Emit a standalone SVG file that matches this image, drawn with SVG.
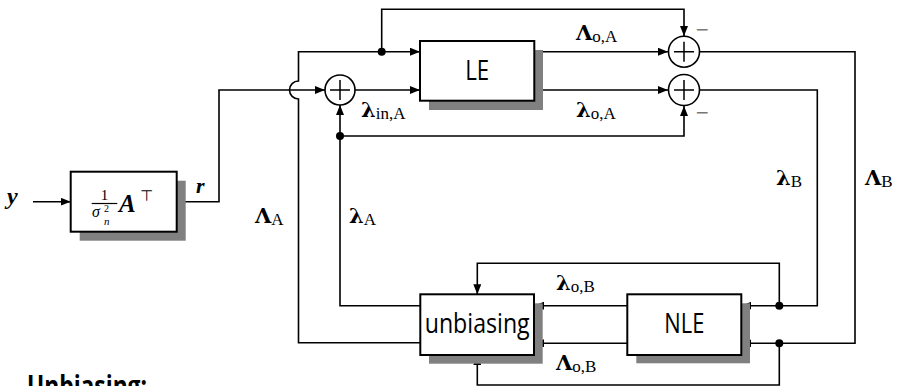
<svg xmlns="http://www.w3.org/2000/svg" width="898" height="386" viewBox="0 0 898 386">
<defs>
<marker id="ah" viewBox="0 0 10 8" refX="10" refY="4" markerWidth="10" markerHeight="8" markerUnits="userSpaceOnUse" orient="auto">
<path d="M0,0 L10,4 L0,8 Z" fill="#000"/>
</marker>
<style>
.box{fill:#fff;stroke:#000;stroke-width:2}
.sh{fill:#808080}
.ln{fill:none;stroke:#000;stroke-width:1.5}
.ar{fill:none;stroke:#000;stroke-width:1.6;marker-end:url(#ah)}
.dot{fill:#000}
.sum{fill:#fff;stroke:#000;stroke-width:1.6}
.lbl{font-family:"Open Sans","Noto Sans",sans-serif;font-size:28px;fill:#000}
.gk{font-family:"DejaVu Serif","Liberation Serif",serif;font-weight:bold;font-size:21px;fill:#000}
.sb{font-family:"Liberation Serif",serif;font-size:17px;fill:#000}
.mi{font-family:"Liberation Serif",serif;font-weight:bold;font-style:italic;fill:#000}
.mn{font-family:"DejaVu Sans",sans-serif;font-size:17px;fill:#777}
</style>
</defs>

<g id="connectors">
<line class="ar" x1="33" y1="201.7" x2="70.7" y2="201.7"/>
<polyline class="ar" points="176.7,201.7 219,201.7 219,90 325,90"/>
<line class="ar" x1="355" y1="90" x2="420" y2="90"/>
<path class="ar" d="M420.3,342.7 H298.5 V99 A9,9 0 0 1 298.5,81 V51.7 H420"/>
<polyline class="ar" points="381.7,51.7 381.7,9.3 684,9.3 684,36"/>
<polyline class="ar" points="420.3,305.7 340,305.7 340,105"/>
<polyline class="ar" points="340,136 684,136 684,106"/>
<line class="ar" x1="534.3" y1="51.7" x2="668" y2="51.7"/>
<line class="ar" x1="534.3" y1="90" x2="668" y2="90"/>
<polyline class="ar" points="700,51.7 855,51.7 855,343.3 741.3,343.3"/>
<polyline class="ar" points="779.3,343.3 779.3,385 477.3,385 477.3,355"/>
<polyline class="ar" points="700,90 817.3,90 817.3,305.7 741.3,305.7"/>
<polyline class="ar" points="779.3,305.7 779.3,263.3 477.3,263.3 477.3,294.3"/>
<line class="ar" x1="627.3" y1="305.7" x2="534" y2="305.7"/>
<line class="ar" x1="627.3" y1="343.3" x2="534" y2="343.3"/>
<circle class="dot" cx="381.7" cy="51.7" r="4"/>
<circle class="dot" cx="340" cy="136" r="4"/>
<circle class="dot" cx="779.3" cy="305.7" r="4"/>
<circle class="dot" cx="779.3" cy="343.3" r="4"/>
<text x="576" y="40"><tspan class="gk">Λ</tspan><tspan class="sb" dy="2">o,A</tspan></text>
<text x="576" y="116.7"><tspan class="gk">λ</tspan><tspan class="sb" dy="2">o,A</tspan></text>
<text x="361" y="117"><tspan class="gk">λ</tspan><tspan class="sb" dy="2">in,A</tspan></text>
<text x="255" y="223"><tspan class="gk">Λ</tspan><tspan class="sb" dy="2">A</tspan></text>
<text x="349" y="223"><tspan class="gk">λ</tspan><tspan class="sb" dy="2">A</tspan></text>
<text x="776" y="185"><tspan class="gk">λ</tspan><tspan class="sb" dy="2">B</tspan></text>
<text x="865" y="185"><tspan class="gk">Λ</tspan><tspan class="sb" dy="2">B</tspan></text>
<text x="556" y="290"><tspan class="gk">λ</tspan><tspan class="sb" dy="2">o,B</tspan></text>
<text x="556" y="370"><tspan class="gk">Λ</tspan><tspan class="sb" dy="2">o,B</tspan></text>
<text class="mi" x="196" y="193" font-size="22">r</text>
<text class="mi" x="7" y="204" font-size="24">y</text>
<text class="mn" x="695" y="35">−</text>
<text class="mn" x="695" y="118">−</text>
</g>

<g id="sum1">
<circle class="sum" cx="340" cy="90" r="15"/>
<path class="ln" d="M330,90 H350 M340,80 V100"/>
</g>
<g id="sumUpper">
<circle class="sum" cx="684" cy="51.7" r="15.5"/>
<path class="ln" d="M674,51.7 H694 M684,41.7 V61.7"/>
</g>
<g id="sumLower">
<circle class="sum" cx="684" cy="90" r="15.5"/>
<path class="ln" d="M674,90 H694 M684,80 V100"/>
</g>

<g id="scale">
<rect class="sh" x="79.7" y="180.7" width="106" height="60"/>
<rect class="box" x="70.7" y="171.7" width="106" height="60"/>
<text x="104.5" y="200" font-family="Liberation Serif,serif" font-size="15" text-anchor="middle">1</text>
<line x1="91.7" y1="203.5" x2="117.3" y2="203.5" stroke="#000" stroke-width="1.2"/>
<text x="92" y="217" font-family="Liberation Serif,serif" font-style="italic" font-size="16">σ</text>
<text x="104" y="212" font-family="Liberation Serif,serif" font-size="10">2</text>
<text x="104" y="225" font-family="Liberation Serif,serif" font-style="italic" font-size="11">n</text>
<text class="mi" x="119" y="211.7" font-size="25">A</text>
<text x="140" y="201" font-family="DejaVu Sans,sans-serif" font-size="15">⊤</text>
</g>

<g id="LE">
<rect class="sh" x="429" y="50" width="114" height="60"/>
<rect class="box" x="420" y="41" width="114.3" height="59.7"/>
<text class="lbl" x="477.2" y="80" text-anchor="middle" textLength="24" lengthAdjust="spacingAndGlyphs">LE</text>
</g>

<g id="unbiasing">
<rect class="sh" x="429" y="303.3" width="113.7" height="60.4"/>
<rect class="box" x="420.3" y="294.3" width="113.7" height="60.7"/>
<text class="lbl" x="477.2" y="333.3" text-anchor="middle" textLength="105" lengthAdjust="spacingAndGlyphs">unbiasing</text>
</g>

<g id="NLE">
<rect class="sh" x="636.3" y="303.3" width="113.7" height="60"/>
<rect class="box" x="627.3" y="294.3" width="114" height="60.7"/>
<text class="lbl" x="684.3" y="333.3" text-anchor="middle" textLength="40" lengthAdjust="spacingAndGlyphs">NLE</text>
</g>

<text x="27" y="396" font-family="Open Sans,Noto Sans,sans-serif" font-weight="bold" font-size="28" textLength="120" lengthAdjust="spacingAndGlyphs">Unbiasing:</text>
</svg>
